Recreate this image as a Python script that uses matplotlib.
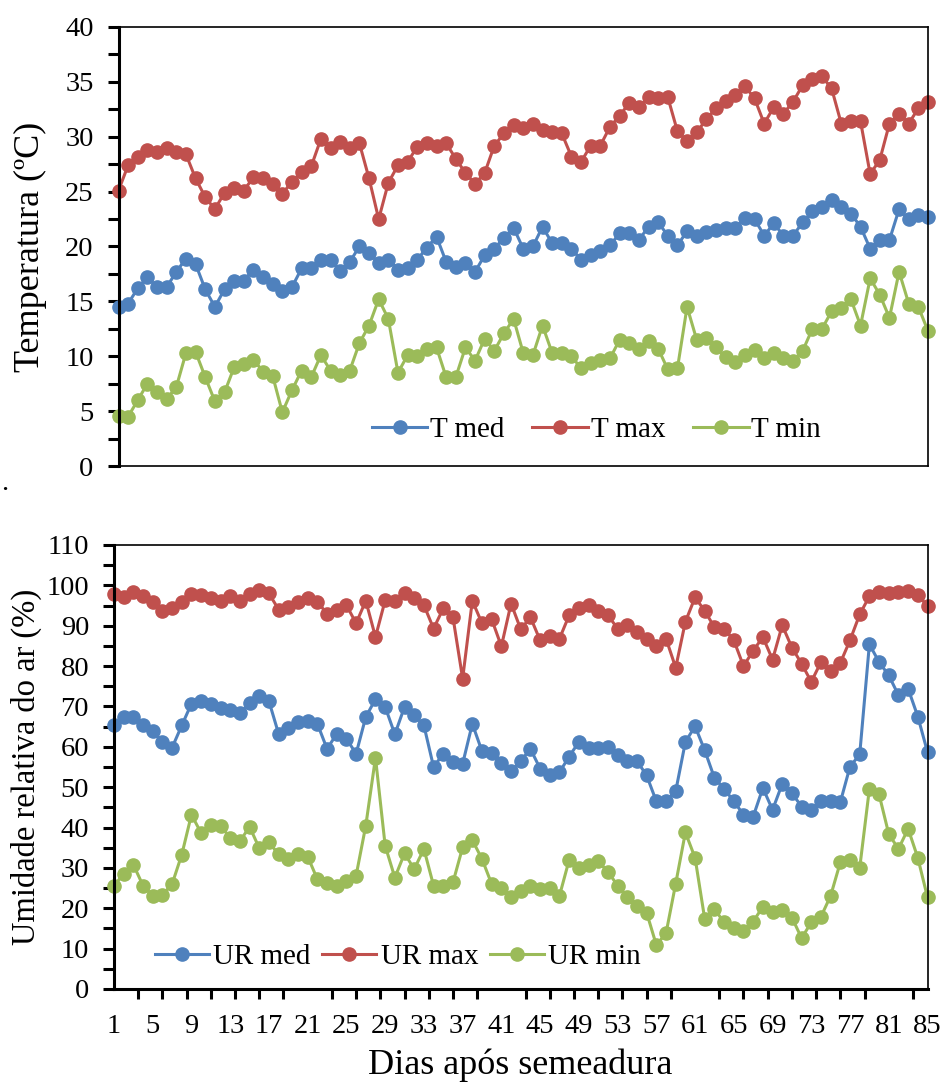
import matplotlib
matplotlib.use("Agg")
import matplotlib.pyplot as plt
from matplotlib.ticker import MultipleLocator, FixedLocator
import numpy as np

plt.rcParams['font.family'] = ['Liberation Serif', 'DejaVu Serif']

days = np.arange(1, 86)

t_med = [14.5, 14.8, 16.2, 17.2, 16.3, 16.3, 17.7, 18.9, 18.4, 16.1,
         14.5, 16.1, 16.9, 16.9, 17.9, 17.2, 16.6, 15.9, 16.3, 18.0,
         18.0, 18.8, 18.8, 17.8, 18.6, 20.0, 19.4, 18.5, 18.8, 17.9,
         18.0, 18.8, 19.9, 20.9, 18.6, 18.1, 18.5, 17.7, 19.2, 19.8,
         20.8, 21.7, 19.8, 20.0, 21.8, 20.3, 20.3, 19.8, 18.8, 19.2,
         19.6, 20.1, 21.2, 21.2, 20.6, 21.8, 22.2, 21.0, 20.1, 21.4,
         21.0, 21.3, 21.5, 21.7, 21.7, 22.6, 22.5, 21.0, 22.1, 21.0,
         21.0, 22.2, 23.2, 23.6, 24.2, 23.6, 23.0, 21.8, 19.8, 20.6,
         20.6, 23.4, 22.5, 22.9, 22.7]

t_max = [25.1, 27.4, 28.2, 28.8, 28.6, 29.0, 28.6, 28.4, 26.2, 24.5,
         23.4, 24.9, 25.3, 25.1, 26.3, 26.2, 25.7, 24.8, 25.9, 26.8,
         27.3, 29.8, 29.0, 29.5, 29.0, 29.4, 26.2, 22.5, 25.8, 27.4,
         27.7, 29.1, 29.4, 29.2, 29.4, 28.0, 26.7, 25.7, 26.7, 29.2,
         30.3, 31.1, 30.8, 31.2, 30.6, 30.4, 30.3, 28.2, 27.7, 29.2,
         29.2, 30.9, 31.9, 33.1, 32.7, 33.6, 33.5, 33.6, 30.5, 29.6,
         30.4, 31.6, 32.6, 33.3, 33.8, 34.6, 33.5, 31.2, 32.7, 32.1,
         33.2, 34.7, 35.3, 35.5, 34.4, 31.2, 31.4, 31.4, 26.6, 27.9,
         31.2, 32.1, 31.2, 32.6, 33.2]

t_min = [4.6, 4.5, 6.0, 7.5, 6.7, 6.1, 7.2, 10.3, 10.4, 8.1,
         5.9, 6.7, 9.0, 9.3, 9.7, 8.6, 8.2, 4.9, 6.9, 8.7,
         8.1, 10.1, 8.7, 8.3, 8.7, 11.2, 12.8, 15.2, 13.4, 8.5,
         10.1, 10.0, 10.7, 10.8, 8.1, 8.1, 10.8, 9.6, 11.6, 10.5,
         12.1, 13.4, 10.3, 10.1, 12.8, 10.3, 10.3, 10.0, 8.9, 9.4,
         9.7, 9.8, 11.5, 11.2, 10.7, 11.4, 10.7, 8.8, 8.9, 14.5,
         11.5, 11.7, 10.8, 9.9, 9.5, 10.1, 10.6, 9.8, 10.3, 9.8,
         9.6, 10.5, 12.5, 12.5, 14.1, 14.4, 15.2, 12.8, 17.1, 15.6,
         13.5, 17.7, 14.8, 14.5, 12.3]

ur_med = [65.3, 67.4, 67.4, 65.3, 63.9, 61.2, 59.8, 65.3, 70.7, 71.3,
          70.5, 69.5, 69.2, 68.4, 70.8, 72.5, 71.3, 63.2, 64.7, 66.1,
          66.4, 65.7, 59.5, 63.2, 62.0, 58.3, 67.4, 71.8, 69.9, 63.1,
          69.9, 67.8, 65.3, 55.0, 58.3, 56.2, 55.8, 65.7, 58.9, 58.4,
          55.9, 54.0, 56.5, 59.5, 54.6, 52.9, 53.7, 57.6, 61.2, 59.8,
          59.8, 59.9, 57.9, 56.5, 56.5, 52.9, 46.5, 46.5, 49.0, 61.2,
          65.1, 59.1, 52.3, 49.6, 46.5, 43.2, 42.7, 49.8, 44.4, 50.8,
          48.5, 45.2, 44.4, 46.7, 46.7, 46.3, 55.1, 58.1, 85.4, 81.0,
          77.7, 72.8, 74.4, 67.5, 58.7]

ur_max = [97.8, 97.2, 98.4, 97.3, 95.9, 93.7, 94.5, 95.8, 97.8, 97.6,
          96.8, 96.2, 97.3, 96.1, 97.8, 98.8, 98.0, 94.0, 94.7, 95.9,
          96.8, 95.9, 93.0, 94.0, 95.1, 90.6, 96.2, 87.2, 96.3, 96.2,
          98.0, 96.8, 95.1, 89.3, 94.3, 92.1, 76.9, 96.2, 90.6, 91.6,
          84.9, 95.5, 89.1, 92.1, 86.4, 87.4, 86.8, 92.6, 94.5, 95.1,
          93.7, 92.6, 89.3, 90.1, 88.5, 86.6, 84.9, 86.8, 79.6, 91.0,
          97.0, 93.7, 89.6, 89.3, 86.4, 80.0, 83.8, 87.2, 81.6, 90.1,
          84.6, 80.6, 76.1, 81.0, 78.8, 80.8, 86.4, 92.8, 97.3, 98.4,
          98.0, 98.4, 98.7, 97.6, 94.9]

ur_min = [25.6, 28.5, 30.8, 25.6, 23.1, 23.3, 26.0, 33.3, 43.2, 38.6,
          40.7, 40.5, 37.4, 36.6, 40.2, 34.9, 36.3, 33.4, 32.2, 33.4,
          32.8, 27.2, 26.2, 25.6, 26.8, 28.1, 40.5, 57.3, 35.5, 27.6,
          33.6, 29.7, 34.7, 25.6, 25.6, 26.4, 35.1, 36.9, 32.2, 26.0,
          25.0, 22.8, 24.2, 25.6, 24.8, 25.0, 23.1, 32.0, 30.0, 30.8,
          31.6, 29.1, 25.6, 22.8, 20.6, 18.9, 10.9, 13.8, 26.1, 38.8,
          32.5, 17.3, 19.8, 16.5, 15.2, 14.4, 16.7, 20.4, 19.0, 19.5,
          17.7, 12.6, 16.5, 17.9, 23.1, 31.4, 32.0, 30.0, 49.6, 48.2,
          38.4, 34.7, 39.7, 32.5, 22.7]

x_tick_labels = [str(d) for d in range(1, 86, 4)]

BLUE = '#4F81BD'
RED = '#C0504D'
GREEN = '#9BBB59'
FS_TICK = 20.5
FS_LEG = 21
FS_TITLE = 26
FS_TITLE_UR = 23.5

W, H = 941, 1083
fig = plt.figure(figsize=(W / 100, H / 100), dpi=100)


def px_axes(left, top, right, bottom):
    return fig.add_axes([left / W, 1 - bottom / H, (right - left) / W, (bottom - top) / H])


def style(ax):
    for s in ('top', 'right', 'bottom'):
        ax.spines[s].set_linewidth(1.2)
    ax.spines['left'].set_linewidth(2.2)
    ax.tick_params(axis='y', which='both', direction='out', length=8, width=2.2,
                   labelsize=FS_TICK, pad=10)
    ax.set_xlim(1, 85)


def series(ax, y, color, label):
    ax.plot(days, y, '-o', color=color, lw=2.2, ms=9.5, mec=color, label=label,
            clip_on=False)


# Temperature panel
ax1 = px_axes(118.5, 27, 928, 466)
series(ax1, t_med, BLUE, 'T med')
series(ax1, t_max, RED, 'T max')
series(ax1, t_min, GREEN, 'T min')
ax1.set_ylim(0, 40)
ax1.yaxis.set_major_locator(MultipleLocator(5))
ax1.yaxis.set_minor_locator(MultipleLocator(2.5))
style(ax1)
ax1.tick_params(axis='x', which='both', bottom=False, labelbottom=False)
ax1.legend(loc='center left', bbox_to_anchor=(372 / W, 1 - 430 / H),
           bbox_transform=fig.transFigure, ncol=3, frameon=False, fontsize=FS_LEG,
           handlelength=1.9, handletextpad=0.1, columnspacing=0.95,
           borderpad=0, borderaxespad=0)

# Relative humidity panel
ax2 = px_axes(114, 545, 927.5, 989)
series(ax2, ur_med, BLUE, 'UR med')
series(ax2, ur_max, RED, 'UR max')
series(ax2, ur_min, GREEN, 'UR min')
ax2.set_ylim(0, 110)
ax2.yaxis.set_major_locator(MultipleLocator(10))
ax2.yaxis.set_minor_locator(MultipleLocator(5))
style(ax2)
ax2.spines['bottom'].set_linewidth(2.2)
ax2.xaxis.set_major_locator(FixedLocator(list(range(1, 86, 4))))
ax2.set_xticklabels(x_tick_labels)
ax2.xaxis.set_minor_locator(FixedLocator(list(np.arange(1, 86, 2.5))))
ax2.tick_params(axis='x', which='major', length=0, labelsize=FS_TICK, pad=18)
ax2.tick_params(axis='x', which='minor', direction='out', length=7, width=2.2)
ax2.legend(loc='center left', bbox_to_anchor=(155 / W, 1 - 957 / H),
           bbox_transform=fig.transFigure, ncol=3, frameon=False, fontsize=FS_LEG,
           handlelength=1.85, handletextpad=0.15, columnspacing=0.4,
           borderpad=0, borderaxespad=0)

fig.text(30 / W, 1 - 247 / H, 'Temperatura (ºC)', rotation=90, fontsize=FS_TITLE,
         ha='center', va='center')
fig.text(26 / W, 1 - 767 / H, 'Umidade relativa do ar (%)', rotation=90,
         fontsize=FS_TITLE_UR, ha='center', va='center')
fig.text(520 / W, 1 - 1074 / H, 'Dias após semeadura', fontsize=FS_TITLE,
         ha='center', va='baseline')
fig.text(1 / W, 1 - 483 / H, '.', fontsize=FS_TICK, ha='left', va='center')

fig.savefig('out.png', dpi=100, facecolor='white')
